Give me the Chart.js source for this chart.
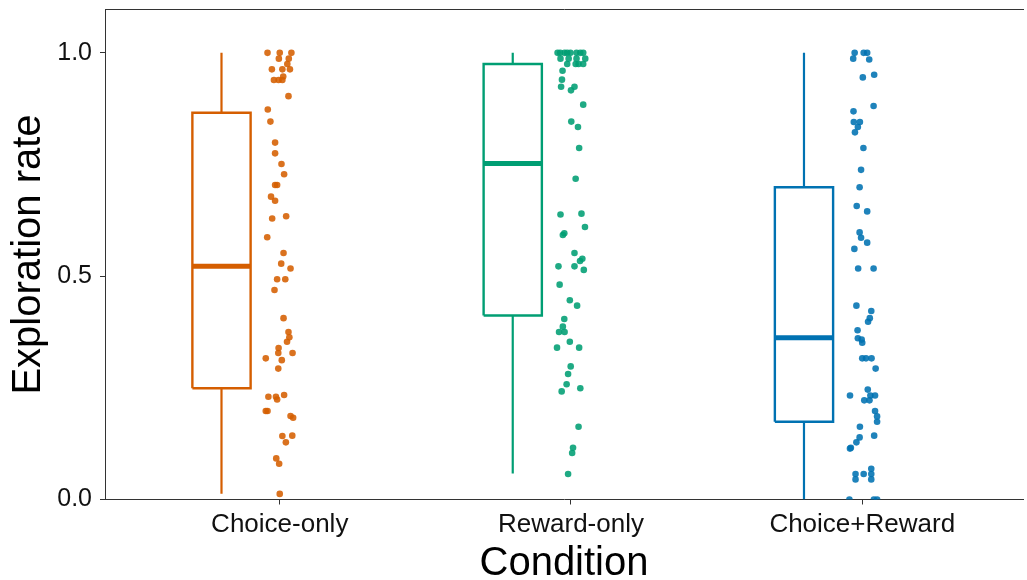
<!DOCTYPE html>
<html>
<head>
<meta charset="utf-8">
<script src="https://cdn.jsdelivr.net/npm/chart.js@4"></script>
<style>
  body { margin: 0; background: #fff; }
</style>
</head>
<body>
<canvas id="chart" width="1027" height="580"></canvas>
<script>
// categories and box stats
const conditions = ['Choice-only', 'Reward-only', 'Choice+Reward'];
const colors = ['#D55E00', '#009E73', '#0072B2'];
const pointColors = ['rgba(213, 94, 0, 0.88)', 'rgba(0, 158, 115, 0.88)', 'rgba(0, 114, 178, 0.88)'];

const whiskerLow = [0.013, 0.058, 0.0];
const q1 = [0.249, 0.412, 0.174];
const medians = [0.522, 0.752, 0.362];
const q3 = [0.866, 0.975, 0.699];
const whiskerHigh = [1.0, 1.0, 1.0];

// individual subjects (jitter = horizontal offset from the category)
const rateChoice = [1.0, 1.0, 1.0, 0.987, 0.987, 0.975, 0.963, 0.963, 0.963, 0.947, 0.939, 0.939, 0.939,
  0.903, 0.873, 0.846, 0.799, 0.775, 0.751, 0.728, 0.704, 0.704, 0.678, 0.669, 0.629, 0.634, 0.587, 0.552,
  0.528, 0.517, 0.493, 0.493, 0.469, 0.406, 0.375, 0.363, 0.353, 0.339, 0.328, 0.328, 0.316, 0.312, 0.293,
  0.230, 0.230, 0.224, 0.234, 0.198, 0.198, 0.187, 0.183, 0.142, 0.143, 0.128, 0.092, 0.080, 0.0125];
const jitterChoice = [-0.042, 0.0, 0.040, -0.003, 0.031, 0.026, -0.027, 0.009, 0.035, 0.012, -0.020, -0.004, 0.009,
  0.030, -0.041, -0.032, -0.016, -0.016, 0.006, 0.015, -0.016, -0.009, -0.030, -0.016, -0.026, 0.022, -0.043, 0.013,
  0.005, 0.037, -0.009, 0.019, -0.018, 0.013, 0.030, 0.033, 0.025, -0.004, -0.005, 0.044, -0.048, 0.007, -0.005,
  -0.039, -0.013, -0.009, 0.015, -0.048, -0.042, 0.037, 0.046, 0.009, 0.043, 0.021, -0.012, -0.002, 0.0];

const rateReward = [1.0, 1.0, 1.0, 1.0, 1.0, 1.0, 1.0, 1.0, 0.987, 0.987, 0.987, 0.987, 0.975, 0.975, 0.975, 0.975,
  0.960, 0.940, 0.924, 0.924, 0.916, 0.884, 0.846, 0.834, 0.787, 0.718, 0.638, 0.640, 0.610, 0.596, 0.592, 0.552,
  0.539, 0.534, 0.522, 0.522, 0.514, 0.481, 0.446, 0.434, 0.404, 0.387, 0.375, 0.375, 0.353, 0.340, 0.340, 0.298,
  0.281, 0.258, 0.242, 0.249, 0.163, 0.116, 0.104, 0.057];
const jitterReward = [-0.046, -0.037, -0.022, -0.013, -0.002, 0.019, 0.032, 0.042, -0.036, -0.008, 0.019, 0.049,
  -0.013, 0.016, 0.026, 0.042, -0.029, -0.031, -0.034, 0.012, 0.0, 0.042, 0.001, 0.024, 0.028, 0.016, -0.036, 0.036,
  0.048, -0.023, -0.028, 0.012, 0.039, 0.031, -0.043, 0.012, 0.044, -0.039, -0.004, 0.021, -0.023, -0.028, -0.041,
  -0.022, -0.004, -0.048, 0.028, -0.001, -0.010, -0.015, -0.032, 0.032, 0.026, 0.007, 0.004, -0.010];

const rateBoth = [1.0, 1.0, 1.0, 0.987, 0.985, 0.945, 0.951, 0.881, 0.869, 0.845, 0.845, 0.834, 0.822, 0.787, 0.738,
  0.699, 0.657, 0.645, 0.598, 0.586, 0.575, 0.561, 0.517, 0.517, 0.434, 0.422, 0.406, 0.398, 0.379, 0.361, 0.358,
  0.351, 0.316, 0.316, 0.316, 0.293, 0.246, 0.233, 0.222, 0.222, 0.233, 0.233, 0.198, 0.186, 0.174, 0.163, 0.143,
  0.139, 0.128, 0.116, 0.114, 0.057, 0.045, 0.057, 0.069, 0.057, 0.045, 0.0, 0.0, 0.0];
const jitterBoth = [-0.026, 0.005, 0.017, -0.031, 0.024, 0.002, 0.041, 0.039, -0.030, -0.029, -0.008, -0.015, -0.025,
  0.004, -0.004, -0.009, -0.019, 0.017, -0.009, -0.004, 0.017, -0.027, -0.014, 0.039, -0.020, 0.031, 0.026, 0.020,
  -0.016, -0.015, -0.002, 0.0, 0.0, 0.013, 0.032, 0.046, 0.019, -0.042, 0.007, 0.025, 0.028, 0.044, 0.044, 0.051,
  0.051, -0.008, 0.041, -0.009, -0.020, -0.039, -0.042, -0.023, -0.023, 0.005, 0.031, 0.031, 0.031, -0.044, 0.040, 0.051];

const yTicks = [0, 0.5, 1.0];

const rates = [rateChoice, rateReward, rateBoth];
const jitters = [jitterChoice, jitterReward, jitterBoth];

const boxShift = -0.2;
const boxHalf = 0.1;

const datasets = [];
conditions.forEach((name, i) => {
  const c = i + 1 + boxShift;
  // box outline
  datasets.push({
    type: 'line',
    data: [
      {x: c - boxHalf, y: q1[i]}, {x: c + boxHalf, y: q1[i]},
      {x: c + boxHalf, y: q3[i]}, {x: c - boxHalf, y: q3[i]}, {x: c - boxHalf, y: q1[i]}
    ],
    borderColor: colors[i], borderWidth: 2.4, pointRadius: 0, fill: false, tension: 0
  });
  // whiskers
  datasets.push({
    type: 'line',
    data: [
      {x: c, y: whiskerLow[i]}, {x: c, y: q1[i]}, {x: c, y: null},
      {x: c, y: q3[i]}, {x: c, y: whiskerHigh[i]}
    ],
    borderColor: colors[i], borderWidth: 2.2, pointRadius: 0, fill: false, spanGaps: false
  });
  // median
  datasets.push({
    type: 'line',
    data: [{x: c - boxHalf, y: medians[i]}, {x: c + boxHalf, y: medians[i]}],
    borderColor: colors[i], borderWidth: 5, pointRadius: 0, fill: false
  });
  // jittered points
  datasets.push({
    type: 'scatter',
    data: rates[i].map((r, k) => ({x: i + 1 + jitters[i][k], y: r})),
    backgroundColor: pointColors[i], borderWidth: 0, pointRadius: 3.3
  });
});

const axisColor = '#333333';
const font = 'Liberation Sans, Arial, Helvetica, sans-serif';

// keep scales from reserving extra room for half labels
function noPad(s) {
  s.paddingTop = 0; s.paddingBottom = 0; s.paddingLeft = 0; s.paddingRight = 0;
}

new Chart(document.getElementById('chart').getContext('2d'), {
  type: 'scatter',
  data: { datasets },
  options: {
    responsive: false,
    animation: false,
    events: [],
    devicePixelRatio: 1,
    layout: { padding: 0 },
    plugins: { legend: { display: false }, tooltip: { enabled: false } },
    scales: {
      x: {
        type: 'linear', position: 'bottom', min: 0.4, max: 3.552,
        afterBuildTicks: s => { s.ticks = [1, 2, 3].map(v => ({value: v})); },
        afterFit: s => { s.height = 80.5; noPad(s); },
        ticks: {
          callback: v => conditions[v - 1],
          font: { family: font, size: 26 }, color: '#111', padding: 5, maxRotation: 0
        },
        grid: { display: true, drawOnChartArea: false, drawTicks: true, tickLength: 5, color: axisColor, lineWidth: 1 },
        border: { display: true, color: axisColor, width: 1 },
        title: { display: true, text: 'Condition', font: { family: font, size: 40, lineHeight: 1 }, color: '#000', padding: { top: 0, bottom: -4 } }
      },
      xTop: {
        type: 'linear', position: 'top', min: 0.4, max: 3.552,
        afterFit: s => { s.height = 9.5; noPad(s); },
        ticks: { display: false },
        grid: { display: false, drawTicks: false },
        border: { display: true, color: axisColor, width: 1 }
      },
      y: {
        type: 'linear', min: 0, max: 1.097,
        afterBuildTicks: s => { s.ticks = yTicks.map(v => ({value: v})); },
        afterFit: s => { s.width = 105; noPad(s); },
        ticks: {
          callback: v => v.toFixed(1),
          font: { family: font, size: 25 }, color: '#111', padding: 8
        },
        grid: { display: true, drawOnChartArea: false, drawTicks: true, tickLength: 5, color: axisColor, lineWidth: 1 },
        border: { display: true, color: axisColor, width: 1 },
        title: { display: true, text: 'Exploration rate', font: { family: font, size: 40, lineHeight: 1 }, color: '#000', padding: { top: 9, bottom: 0 } }
      }
    }
  }
});
</script>
</body>
</html>
